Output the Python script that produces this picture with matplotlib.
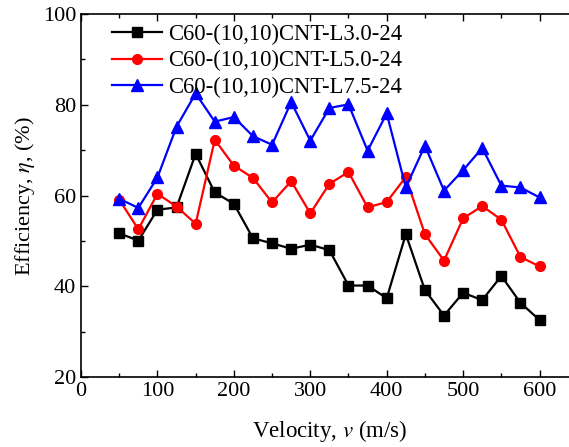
import matplotlib

matplotlib.use("Agg")
import matplotlib.pyplot as plt
from matplotlib.ticker import MultipleLocator

velocity = [50, 75, 100, 125, 150, 175, 200, 225, 250, 275, 300, 325, 350,
            375, 400, 425, 450, 475, 500, 525, 550, 575, 600]

eff_l30 = [51.7, 50.1, 56.9, 57.4, 69.2, 60.7, 58.2, 50.6, 49.5, 48.3, 49.2, 48.0,
           40.2, 40.2, 37.4, 51.5, 39.2, 33.6, 38.6, 37.0, 42.3, 36.4, 32.6]
eff_l50 = [59.1, 52.6, 60.4, 57.6, 53.8, 72.3, 66.6, 63.9, 58.5, 63.2, 56.1, 62.6,
           65.2, 57.4, 58.6, 64.1, 51.5, 45.7, 55.0, 57.7, 54.7, 46.5, 44.4]
eff_l75 = [59.3, 57.3, 64.0, 75.2, 82.5, 76.3, 77.3, 73.1, 71.2, 80.6, 72.1, 79.3,
           80.1, 69.9, 78.1, 61.8, 71.0, 61.1, 65.6, 70.5, 62.2, 61.8, 59.6]

labels = ["C60-(10,10)CNT-L3.0-24", "C60-(10,10)CNT-L5.0-24", "C60-(10,10)CNT-L7.5-24"]

plt.rcParams["font.family"] = ["Liberation Serif", "DejaVu Serif"]
plt.rcParams["mathtext.fontset"] = "stix"


def main():
    fig = plt.figure(figsize=(5.69, 4.47), dpi=100)
    ax = fig.add_axes([0.1424, 0.156, 0.873, 0.8127])

    ax.plot(velocity, eff_l30, color="black", marker="s", markersize=6.5, lw=1.6, label=labels[0])
    ax.plot(velocity, eff_l50, color="red", marker="o", markersize=7, lw=1.6, label=labels[1])
    ax.plot(velocity, eff_l75, color="blue", marker="^", markersize=8, lw=1.6, label=labels[2])

    ax.set_xlim(0, 650)
    ax.set_ylim(20, 100)
    ax.xaxis.set_major_locator(MultipleLocator(100))
    ax.xaxis.set_minor_locator(MultipleLocator(50))
    ax.yaxis.set_major_locator(MultipleLocator(20))
    ax.yaxis.set_minor_locator(MultipleLocator(10))
    ax.tick_params(which="both", direction="in", top=True, right=True, labelsize=16)
    ax.tick_params(which="major", length=5, width=1)
    ax.tick_params(which="minor", length=3, width=1)
    for sp in ax.spines.values():
        sp.set_linewidth(1.2)

    ax.set_xlabel(r"Velocity, $\it{v}$ (m/s)", fontsize=16.5, labelpad=12)
    ax.set_ylabel(r"Efficiency, $\it{\eta}$, (%)", fontsize=16, labelpad=4)

    ax.legend(loc="upper left", frameon=False, fontsize=16.3, handlelength=2.2,
              handletextpad=0.28, labelspacing=0.22, borderaxespad=0.0,
              bbox_to_anchor=(0.045, 0.997))

    plt.savefig("out.png", dpi=100)
    plt.close()


if __name__ == "__main__":
    main()
